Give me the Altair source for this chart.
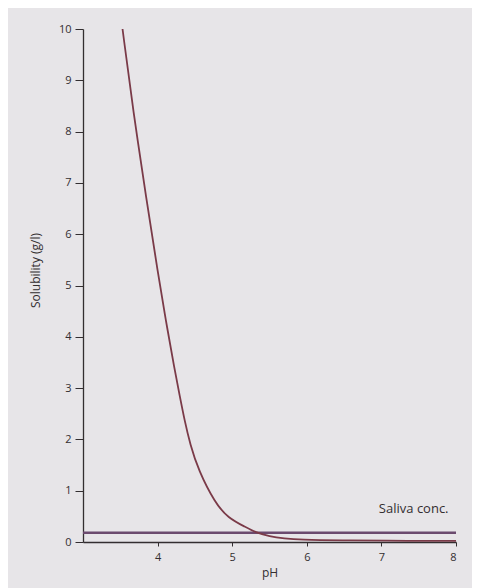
import altair as alt
import pandas as pd

# Solubility curve
ph = [3.53, 3.671, 3.851, 4.006, 4.109, 4.229, 4.295, 4.36, 4.437, 4.547, 4.77, 4.944, 5.18, 5.31, 5.5, 5.7, 5.9, 6.5, 7.0, 8.0]
solubility = [10, 8.42, 6.67, 5.23, 4.33, 3.35, 2.86, 2.38, 1.9, 1.40, 0.76, 0.47, 0.29, 0.19, 0.11, 0.07, 0.045, 0.03, 0.025, 0.02]

# Saliva concentration (horizontal line)
saliva_ph = [3, 8]
saliva_level = [0.18, 0.18]

label_text = ["Saliva conc."]
label_ph = [7.9]
label_y = [0.5]

x_ticks = [4, 5, 6, 7, 8]
y_ticks = [0, 1, 2, 3, 4, 5, 6, 7, 8, 9, 10]

curve_df = pd.DataFrame({"pH": ph, "sol": solubility})
saliva_df = pd.DataFrame({"pH": saliva_ph, "sol": saliva_level})
label_df = pd.DataFrame({"pH": label_ph, "sol": label_y, "t": label_text})

FONT = "Open Sans"
INK = "#332e30"

x_enc = alt.X("pH:Q", scale=alt.Scale(domain=[3, 8], nice=False, zero=False),
              axis=alt.Axis(title="pH", values=x_ticks, format="d", grid=False,
                            domainColor=INK, tickColor=INK, tickSize=4, domainWidth=1.3,
                            labelColor=INK, labelFontSize=11, labelFont=FONT,
                            labelPadding=5, titleFont=FONT, titleFontSize=12,
                            titleFontWeight="normal", titleColor=INK, titlePadding=5))
y_enc = alt.Y("sol:Q", scale=alt.Scale(domain=[0, 10], nice=False),
              axis=alt.Axis(title="Solubility (g/l)", values=y_ticks, format="d", grid=False,
                            domainColor=INK, tickColor=INK, tickSize=8, domainWidth=1.3,
                            labelColor=INK, labelFontSize=11, labelFont=FONT,
                            labelPadding=4, titleFont=FONT, titleFontSize=12,
                            titleFontWeight="normal", titleColor=INK, titlePadding=16,
                            titleY=241))

saliva = alt.Chart(saliva_df).mark_line(color="#6b4a6e", strokeWidth=2.6).encode(x=x_enc, y=y_enc)
curve = alt.Chart(curve_df).mark_line(color="#7a3a48", strokeWidth=1.8, interpolate="basis").encode(x=x_enc, y=y_enc)
label = alt.Chart(label_df).mark_text(align="right", baseline="bottom", font=FONT, fontSize=13,
                                      color=INK).encode(x="pH:Q", y="sol:Q", text="t:N")

chart = (saliva + curve + label).properties(
    width=373, height=513,
    autosize=alt.AutoSizeParams(type="none"),
    padding={"left": 75, "top": 21, "right": 16, "bottom": 46},
    background="#e7e5e8",
).configure_view(stroke=None)

chart.save("out.html", embed_options={"renderer": "svg", "actions": False})
